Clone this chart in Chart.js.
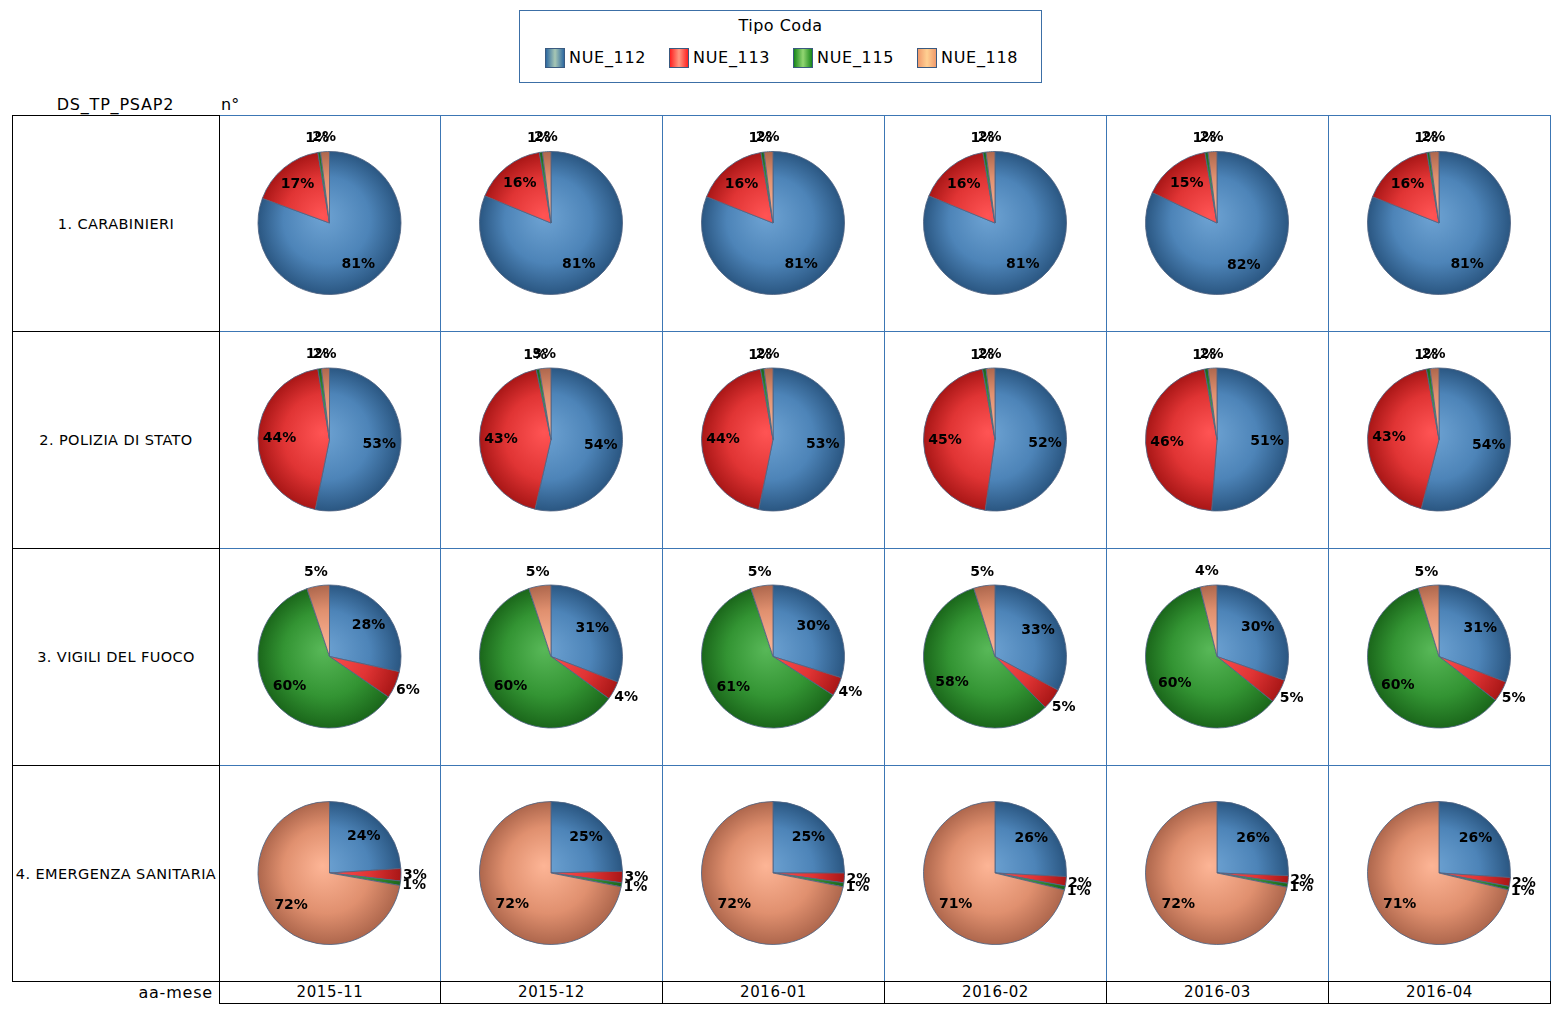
<!DOCTYPE html>
<html><head><meta charset="utf-8">
<script src="https://cdn.jsdelivr.net/npm/chart.js@4/dist/chart.umd.min.js"></script>
<style>
html,body{margin:0;padding:0;background:#fff;}
body{width:1562px;height:1015px;position:relative;overflow:hidden;font-family:"DejaVu Sans",Verdana,sans-serif;color:#000;}
.abs{position:absolute;box-sizing:border-box;}
.legend{left:519px;top:10px;width:523px;height:73px;border:1px solid #3c6fa6;}
.ltitle{position:absolute;left:0;right:0;top:5px;text-align:center;font-size:16px;letter-spacing:0.5px;}
.litem{position:absolute;top:36px;height:22px;font-size:16px;line-height:22px;letter-spacing:0.7px;}
.sw{display:inline-block;width:20px;height:20px;vertical-align:top;border:1px solid #3a5a80;box-sizing:border-box;margin-right:4px;margin-top:1px;}
.rowlab{font-size:14.5px;letter-spacing:0.4px;display:flex;align-items:center;justify-content:center;white-space:nowrap;}
.month{font-size:15px;letter-spacing:0.6px;text-align:center;line-height:21px;}
canvas{position:absolute;}
</style></head>
<body>
<div id="root"></div>
<script>
// ---- data ----
const months = ['2015-11','2015-12','2016-01','2016-02','2016-03','2016-04'];
const psap = ['1. CARABINIERI','2. POLIZIA DI STATO','3. VIGILI DEL FUOCO','4. EMERGENZA SANITARIA'];
const tipi = ['NUE_112','NUE_113','NUE_115','NUE_118'];
// rows = psap, columns = months (percent share)
const nue112 = [
  [80.6, 81.2, 81.0, 81.2, 82.0, 81.0],
  [53.2, 53.6, 53.2, 52.2, 51.2, 54.0],
  [28.4, 30.8, 29.8, 32.8, 30.4, 30.8],
  [24.0, 24.6, 25.0, 25.8, 25.6, 26.0]
];
const nue113 = [
  [16.8, 16.2, 16.3, 16.1, 15.3, 16.3],
  [44.2, 43.1, 44.0, 45.0, 46.0, 43.2],
  [6.2, 4.2, 4.3, 4.8, 5.4, 4.7],
  [2.8, 2.6, 2.2, 2.1, 1.7, 2.0]
];
const nue115 = [
  [0.6, 0.7, 0.7, 0.7, 0.7, 0.6],
  [0.8, 0.7, 0.8, 0.8, 0.8, 0.8],
  [60.3, 60.0, 60.9, 57.6, 60.4, 59.8],
  [1.0, 0.9, 0.9, 0.9, 0.9, 0.8]
];
const nue118 = [
  [2.0, 1.9, 2.0, 2.0, 2.0, 2.1],
  [1.8, 2.6, 2.0, 2.0, 2.0, 2.0],
  [5.1, 5.0, 5.0, 4.8, 3.8, 4.7],
  [72.2, 71.9, 71.9, 71.2, 71.8, 71.2]
];

// ---- layout / style ----
const colX = [219,440,662,884,1106,1328,1550];
const rowY = [115,331,548,765,981];
const radial = [
  ['#6ea3d3','#4d84b8','#2a5681'],
  ['#ff5454','#e03434','#a81616'],
  ['#58b858','#339433','#1a661a'],
  ['#fdb596','#e0906f','#ad664c']
];
const swatch = [
  'linear-gradient(90deg,#2e69a0,#a7c7b4 50%,#2e69a0)',
  'linear-gradient(90deg,#ff2020,#ff9a82 50%,#ff2020)',
  'linear-gradient(90deg,#17861a,#92d672 50%,#17861a)',
  'linear-gradient(90deg,#f09a6c,#ffd092 50%,#f09a6c)'
];

const root = document.getElementById('root');
function div(cls, style, html){const d=document.createElement('div');d.className='abs '+(cls||'');Object.assign(d.style,style);if(html!==undefined)d.innerHTML=html;root.appendChild(d);return d;}

// legend
const lg = div('legend',{});
lg.innerHTML = '<div class="ltitle">Tipo Coda</div>';
tipi.forEach((t,i)=>{
  const it=document.createElement('div');it.className='litem';it.style.left=(25+i*124)+'px';
  it.innerHTML='<span class="sw" style="background:'+swatch[i]+'"></span>'+t;
  lg.appendChild(it);
});

// headers
div('',{left:'12px',top:'95px',width:'207px',textAlign:'center',fontSize:'16px',letterSpacing:'0.8px'},'DS_TP_PSAP2');
div('',{left:'221px',top:'95px',fontSize:'16px'},'n°');

// left column cells (black)
psap.forEach((p,r)=>{
  div('rowlab',{left:'12px',top:rowY[r]+'px',width:'208px',height:(rowY[r+1]-rowY[r]+1)+'px',border:'1px solid #000'},p);
});
// pie grid (blue)
for(let r=0;r<4;r++){
  for(let c=0;c<6;c++){
    div('',{left:colX[c]+'px',top:rowY[r]+'px',width:(colX[c+1]-colX[c]+1)+'px',height:(rowY[r+1]-rowY[r]+1)+'px',border:'1px solid #3c76b4'});
  }
}
// black verticals at x=219 and bottom line
div('',{left:'219px',top:'115px',width:'1px',height:'867px',background:'#000'});
div('',{left:'12px',top:'981px',width:'1539px',height:'1px',background:'#000'});
// month row
div('',{left:'110px',top:'982px',width:'103px',textAlign:'right',fontSize:'16px',letterSpacing:'0.8px',lineHeight:'21px'},'aa-mese');
months.forEach((m,c)=>{
  div('month',{left:colX[c]+'px',top:'981px',width:(colX[c+1]-colX[c]+1)+'px',height:'23px',border:'1px solid #000'},m);
});

// label plugin
const pctLabels = {
  id:'pctLabels',
  afterDatasetsDraw(chart){
    const ctx = chart.ctx;
    const meta = chart.getDatasetMeta(0);
    const data = chart.data.datasets[0].data;
    const total = data.reduce((a,b)=>a+b,0);
    ctx.save();
    ctx.font = 'bold 14px "DejaVu Sans", Verdana, sans-serif';
    ctx.fillStyle = '#000';
    ctx.textAlign = 'center';
    ctx.textBaseline = 'middle';
    meta.data.forEach((arc,i)=>{
      const p = arc.getProps(['x','y','startAngle','endAngle','outerRadius'],true);
      const frac = data[i]/total;
      const mid = (p.startAngle+p.endAngle)/2;
      const d = frac >= 0.1 ? p.outerRadius*0.7 : p.outerRadius+14;
      ctx.fillText(Math.round(frac*100)+'%', p.x+Math.cos(mid)*d, p.y+Math.sin(mid)*d);
    });
    ctx.restore();
  }
};

function grad(ctx, idx){
  const chart = ctx.chart, a = chart.chartArea;
  if(!a) return radial[idx][1];
  const cx=(a.left+a.right)/2, cy=(a.top+a.bottom)/2;
  const r=Math.min(a.right-a.left,a.bottom-a.top)/2;
  const g = chart.ctx.createRadialGradient(cx-r*0.1,cy-r*0.1,0,cx,cy,r);
  g.addColorStop(0,radial[idx][0]);
  g.addColorStop(0.6,radial[idx][1]);
  g.addColorStop(1,radial[idx][2]);
  return g;
}

const series = [nue112,nue113,nue115,nue118];
for(let r=0;r<4;r++){
  for(let c=0;c<6;c++){
    const w = colX[c+1]-colX[c], h = rowY[r+1]-rowY[r];
    const cv = document.createElement('canvas');
    cv.width = w-2; cv.height = h-2;
    cv.style.left=(colX[c]+1)+'px'; cv.style.top=(rowY[r]+1)+'px';
    cv.style.width=(w-2)+'px'; cv.style.height=(h-2)+'px';
    root.appendChild(cv);
    const vals = series.map(s=>s[r][c]);
    const padV = (h-2-144)/2, padH=(w-2-144)/2;
    new Chart(cv,{
      type:'pie',
      data:{labels:tipi,datasets:[{
        data:vals,
        backgroundColor:(ctx)=>grad(ctx,ctx.dataIndex),
        borderColor:'rgba(80,100,130,0.85)',
        borderWidth:1
      }]},
      options:{
        responsive:false,animation:false,
        layout:{padding:{left:padH,right:padH,top:padV,bottom:padV}},
        plugins:{legend:{display:false},tooltip:{enabled:false}}
      },
      plugins:[pctLabels]
    });
  }
}
</script>
</body></html>
